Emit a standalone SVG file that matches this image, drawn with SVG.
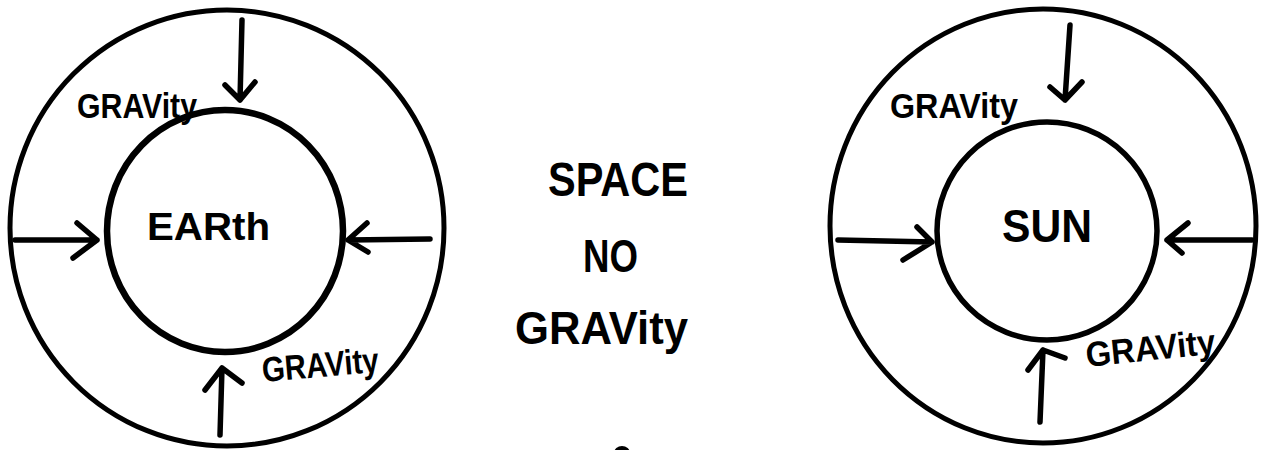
<svg xmlns="http://www.w3.org/2000/svg" width="1261" height="450" viewBox="0 0 1261 450">
  <style>
    .ring { fill: none; stroke: #000; }
    .arrow { fill: none; stroke: #000; stroke-width: 5.5; stroke-linecap: round; stroke-linejoin: round; }
    .lbl { font-family: "Liberation Sans", Arial, sans-serif; font-weight: bold; fill: #000; }
  </style>
  <rect x="0" y="0" width="1261" height="450" fill="#fff"/>

  <g id="earth">
    <ellipse class="ring" cx="227" cy="228" rx="217" ry="218" stroke-width="5"/>
    <ellipse class="ring" cx="225" cy="231" rx="118" ry="121" stroke-width="6.5"/>
    <text class="lbl" x="147" y="240" font-size="38" textLength="123" lengthAdjust="spacingAndGlyphs">EARth</text>
    <text class="lbl" x="77" y="118" font-size="35" textLength="120" lengthAdjust="spacingAndGlyphs">GRAVity</text>
    <text class="lbl" x="263" y="382" font-size="35" textLength="117" lengthAdjust="spacingAndGlyphs" transform="rotate(-5 263 382)">GRAVity</text>
  </g>

  <g id="space">
    <text class="lbl" x="548" y="196" font-size="48" textLength="140" lengthAdjust="spacingAndGlyphs">SPACE</text>
    <text class="lbl" x="583" y="272" font-size="46" textLength="55" lengthAdjust="spacingAndGlyphs">NO</text>
    <text class="lbl" x="515" y="344" font-size="46" textLength="173" lengthAdjust="spacingAndGlyphs">GRAVity</text>
    <ellipse cx="622" cy="453" rx="8" ry="7" fill="#000"/>
  </g>

  <g id="sun">
    <ellipse class="ring" cx="1043" cy="226" rx="213" ry="217" stroke-width="5"/>
    <ellipse class="ring" cx="1047" cy="231" rx="110" ry="109" stroke-width="5.5"/>
    <text class="lbl" x="1002" y="242" font-size="46" textLength="90" lengthAdjust="spacingAndGlyphs">SUN</text>
    <text class="lbl" x="890" y="118" font-size="35" textLength="128" lengthAdjust="spacingAndGlyphs">GRAVity</text>
    <text class="lbl" x="1087" y="367" font-size="35" textLength="130" lengthAdjust="spacingAndGlyphs" transform="rotate(-6 1087 367)">GRAVity</text>
  </g>

  <g id="connectors">
    <!-- Earth -->
    <path class="arrow" d="M242 20 L240 100 M225 85 L240 100 L255 82"/>
    <path class="arrow" d="M15 240 L97 240 M77 223 L97 240 L73 258"/>
    <path class="arrow" d="M430 239 L348 240 M367 223 L348 240 L368 252"/>
    <path class="arrow" d="M220 435 L222 368 M205 390 L222 368 L242 383"/>
    <!-- Sun -->
    <path class="arrow" d="M1070 25 L1065 100 M1050 87 L1065 100 L1082 82"/>
    <path class="arrow" d="M838 240 L932 242 M917 227 L932 242 L903 260"/>
    <path class="arrow" d="M1252 240 L1167 240 M1188 223 L1167 240 L1182 253"/>
    <path class="arrow" d="M1040 422 L1043 350 M1028 370 L1043 350 L1065 358"/>
  </g>
</svg>
